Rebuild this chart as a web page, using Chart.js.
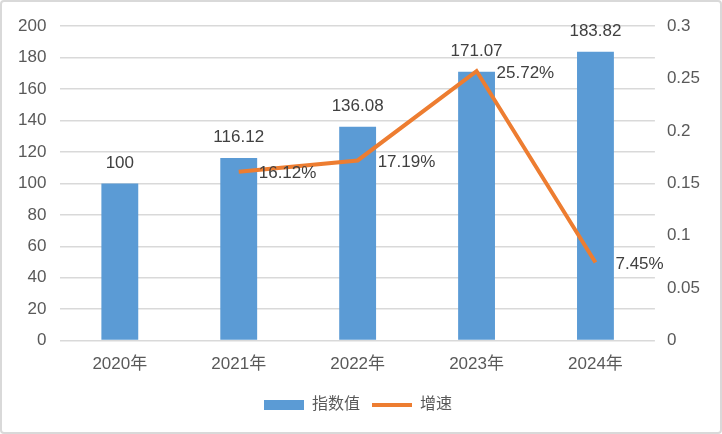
<!DOCTYPE html>
<html lang="zh">
<head>
<meta charset="UTF-8">
<title>指数值与增速</title>
<script src="https://cdn.jsdelivr.net/npm/chart.js"></script>
<style>
    html, body {
        margin: 0;
        padding: 0;
        background: #fff;
    }
    .box {
        width: 722px;
        height: 434px;
        box-sizing: border-box;
        border: 2px solid #d9d9d9;
        border-radius: 4px;
    }
</style>
</head>
<body>
<div class="box"><canvas id="chart"></canvas></div>
<script>
    const years = ['2020年', '2021年', '2022年', '2023年', '2024年'];
    const indexValues = [100, 116.12, 136.08, 171.07, 183.82];
    const growthRates = [null, 0.1612, 0.1719, 0.2572, 0.0745];

    const FONT = '"Liberation Sans", "Noto Sans CJK SC", Arial, sans-serif';
    const BLUE = '#5b9bd5';
    const ORANGE = '#ed7d31';

    // 数据标签
    const valueLabels = {
        id: 'valueLabels',
        afterDatasetsDraw(chart) {
            const ctx = chart.ctx;
            ctx.save();
            ctx.font = '17px ' + FONT;
            ctx.fillStyle = '#404040';

            chart.getDatasetMeta(0).data.forEach((bar, i) => {
                ctx.textAlign = 'center';
                ctx.textBaseline = 'bottom';
                ctx.fillText(String(indexValues[i]), bar.x, bar.y - 12);
            });

            chart.getDatasetMeta(1).data.forEach((pt, i) => {
                if (growthRates[i] == null) return;
                ctx.textAlign = 'left';
                ctx.textBaseline = 'middle';
                ctx.fillText((growthRates[i] * 100).toFixed(2) + '%', pt.x + 20, pt.y + 2);
            });
            ctx.restore();
        }
    };

    new Chart(document.getElementById('chart'), {
        data: {
            labels: years,
            datasets: [
                {
                    type: 'bar',
                    label: '指数值',
                    data: indexValues,
                    backgroundColor: BLUE,
                    yAxisID: 'y',
                    barPercentage: 0.31,
                    categoryPercentage: 1,
                    order: 2
                },
                {
                    type: 'line',
                    label: '增速',
                    data: growthRates,
                    borderColor: ORANGE,
                    backgroundColor: ORANGE,
                    borderWidth: 4,
                    pointRadius: 0,
                    tension: 0,
                    yAxisID: 'y1',
                    order: 1
                }
            ]
        },
        options: {
            responsive: true,
            maintainAspectRatio: false,
            animation: false,
            layout: {
                padding: { left: 2, right: 8, top: 8, bottom: 9 }
            },
            plugins: {
                tooltip: { enabled: false },
                legend: {
                    position: 'bottom',
                    labels: {
                        color: '#595959',
                        font: { family: FONT, size: 16 },
                        usePointStyle: true,
                        pointStyleWidth: 40,
                        boxHeight: 10,
                        padding: 12,
                        generateLabels(chart) {
                            return [
                                {
                                    text: '指数值', pointStyle: 'rect',
                                    fillStyle: BLUE, strokeStyle: BLUE, lineWidth: 0,
                                    datasetIndex: 0, fontColor: '#595959'
                                },
                                {
                                    text: '增速', pointStyle: 'line',
                                    fillStyle: ORANGE, strokeStyle: ORANGE, lineWidth: 4,
                                    datasetIndex: 1, fontColor: '#595959'
                                }
                            ];
                        }
                    }
                }
            },
            scales: {
                x: {
                    grid: { display: false },
                    border: { display: false },
                    ticks: {
                        color: '#595959',
                        font: { family: FONT, size: 17 },
                        padding: 6
                    },
                    afterFit(scale) {
                        scale.height += 4;
                    }
                },
                y: {
                    position: 'left',
                    min: 0,
                    max: 200,
                    ticks: {
                        stepSize: 20,
                        color: '#595959',
                        font: { family: FONT, size: 17 },
                        padding: 14
                    },
                    grid: { color: '#d9d9d9', lineWidth: 1.5, drawTicks: false },
                    border: { display: false }
                },
                y1: {
                    position: 'right',
                    min: 0,
                    max: 0.3,
                    ticks: {
                        stepSize: 0.05,
                        color: '#595959',
                        font: { family: FONT, size: 17 },
                        padding: 12,
                        callback: v => String(+v.toFixed(2))
                    },
                    grid: { display: false, drawTicks: false },
                    border: { display: false }
                }
            }
        },
        plugins: [valueLabels]
    });
</script>
</body>
</html>
